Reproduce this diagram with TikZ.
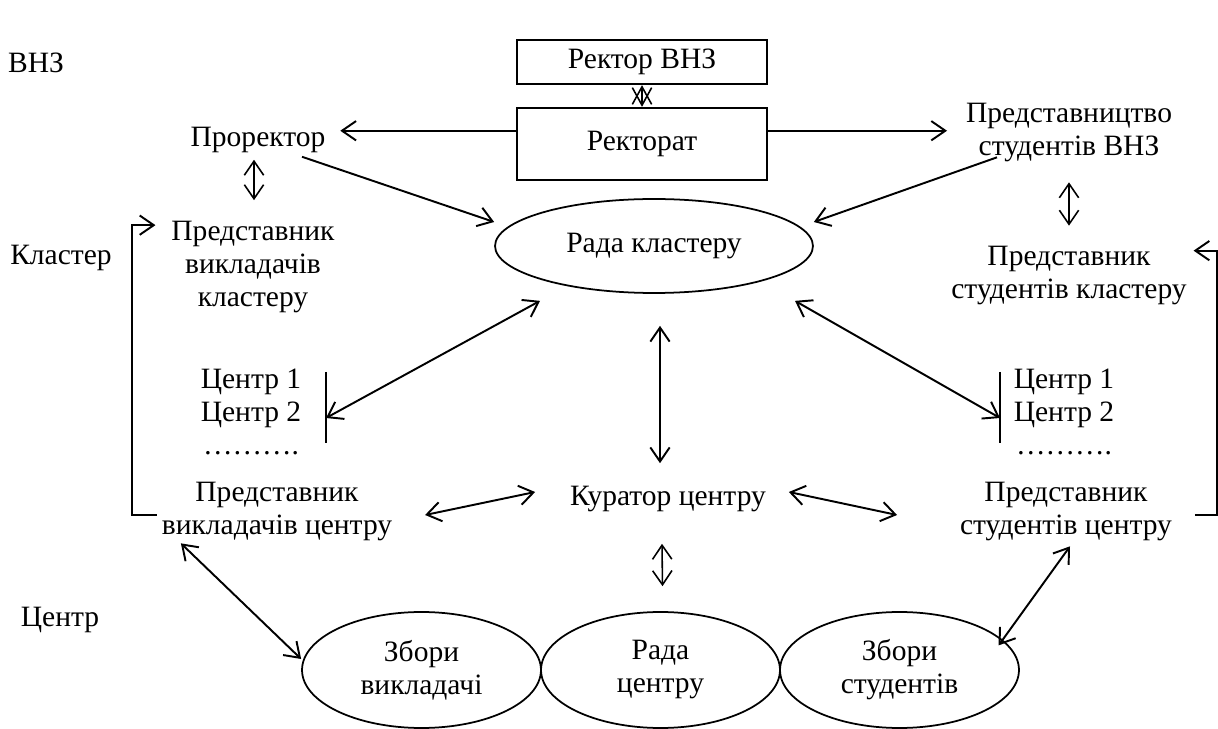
\documentclass[tikz,border=0pt]{standalone}
\usepackage{fontspec}
\setmainfont{Liberation Serif}
\usetikzlibrary{arrows.meta,positioning,shapes.geometric,calc}

\begin{document}
\begin{tikzpicture}[x=0.02cm, y=-0.02cm,
  box/.style={rectangle, draw, line width=1.3pt, minimum width=5cm,
    font=\fontsize{16.8}{18.8}\selectfont},
  oval/.style={ellipse, draw, line width=1pt, inner sep=0pt, align=center,
    font=\fontsize{16.8}{18.8}\selectfont},
  lbl/.style={inner sep=0pt, align=center, font=\fontsize{16.8}{18.8}\selectfont},
  short/.style={line width=0.9pt},
  <->, >={Straight Barb[length=8pt,width=11pt]}, line width=1.1pt
]
  \useasboundingbox (0,0) rectangle (1218,729);

  % levels
  \node[lbl] (vnz) at (36,63) {ВНЗ};
  \node[lbl] (klaster) at (61,258) {Кластер};
  \node[lbl] (tsentr) at (60,620) {Центр};

  % university level
  \node[box, minimum height=0.88cm] (rector) at (642,62) {Ректор ВНЗ};
  \node[box, minimum height=1.44cm] (rectorat) at (642,144) {Ректорат};
  \node[lbl] (prorector) at (258,140) {Проректор};
  \node[lbl] (predst) at (1069,133) {Представництво\\студентів ВНЗ};

  % cluster level
  \node[oval, minimum width=6.36cm, minimum height=1.88cm] (radakl) at (654,246) {Рада кластеру};
  \node[lbl] (predvykkl) at (253,267) {Представник\\викладачів\\кластеру};
  \node[lbl] (predstudkl) at (1069,276) {Представник\\студентів кластеру};
  \node[lbl] (tsl) at (251,412) {Центр 1\\Центр 2\\……….};
  \node[lbl] (tsr) at (1064,412) {Центр 1\\Центр 2\\……….};
  \coordinate (barl) at (326,418);
  \coordinate (barr) at (1000,418);

  % centre level
  \node[lbl] (kurator) at (668,499) {Куратор центру};
  \node[lbl] (predvykts) at (277,512) {Представник\\викладачів центру};
  \node[lbl] (predstudts) at (1066,512) {Представник\\студентів центру};
  \node[oval, minimum width=4.78cm, minimum height=2.32cm] (zbvyk) at (421.5,670) {Збори\\викладачі};
  \node[oval, minimum width=4.78cm, minimum height=2.32cm] (radats) at (660.5,670) {Рада\\центру};
  \node[oval, minimum width=4.78cm, minimum height=2.32cm] (zbstud) at (899.5,670) {Збори\\студентів};

  \draw[line width=0.9pt, >={Straight Barb[length=10pt,width=11pt]}] (rector) -- (rectorat);
  \draw[->] (rectorat.174) -- ($(rectorat.174 -| prorector.east)+(14,0)$);
  \draw[->] (rectorat.6) -- ($(rectorat.6 -| predst.west)+(-18,0)$);
  \draw[short] ($(prorector.south)+(-4,6)$) -- ($(predvykkl.north)+(1,-20)$);
  \draw[short] ($(predst.south)+(0,19)$) -- ($(predstudkl.north)+(0,-20)$);
  \draw[->] ($(prorector.south)+(44,3)$) -- ($(radakl.west)+(0,-24)$);
  \draw[->] ($(predst.south)+(-72,-6)$) -- ($(radakl.east)+(0,-24)$);

  % brackets
  \draw[->] ($(predvykts.west)+(-4,3)$) -- ++(-25,0) |- ($(predvykkl.north west)+(-15,5)$);
  \draw[->] ($(predstudts.east)+(22,3)$) -- ++(22,0) |- ($(predstudkl.north east)+(6,5)$);

  % centres
  \draw[-] (barl) ++(0,-46) -- ++(0,71);
  \draw[-] (barr) ++(0,-46) -- ++(0,71);
  \draw ($(radakl.south)+(-114,7)$) -- (barl);
  \draw ($(radakl.south)+(141,7)$) -- (barr);
  \draw ($(radakl.south)+(6,32)$) -- ($(kurator.north)+(-8,-22)$);
  \draw ($(predvykts.east)+(32,3)$) -- ($(kurator.west)+(-34,-7)$);
  \draw ($(kurator.east)+(22,-7)$) -- ($(predstudts.west)+(-62,3)$);
  \draw[short] ($(kurator.south)+(-6,31)$) -- ($(radats.north)+(2,-25)$);
  \draw ($(predvykts.south west)+(20,1)$) -- ($(zbvyk.west)+(0,-11)$);
  \draw ($(predstudts.south)+(4,4)$) -- ($(zbstud.north east)+(14,17)$);
\end{tikzpicture}
\end{document}
